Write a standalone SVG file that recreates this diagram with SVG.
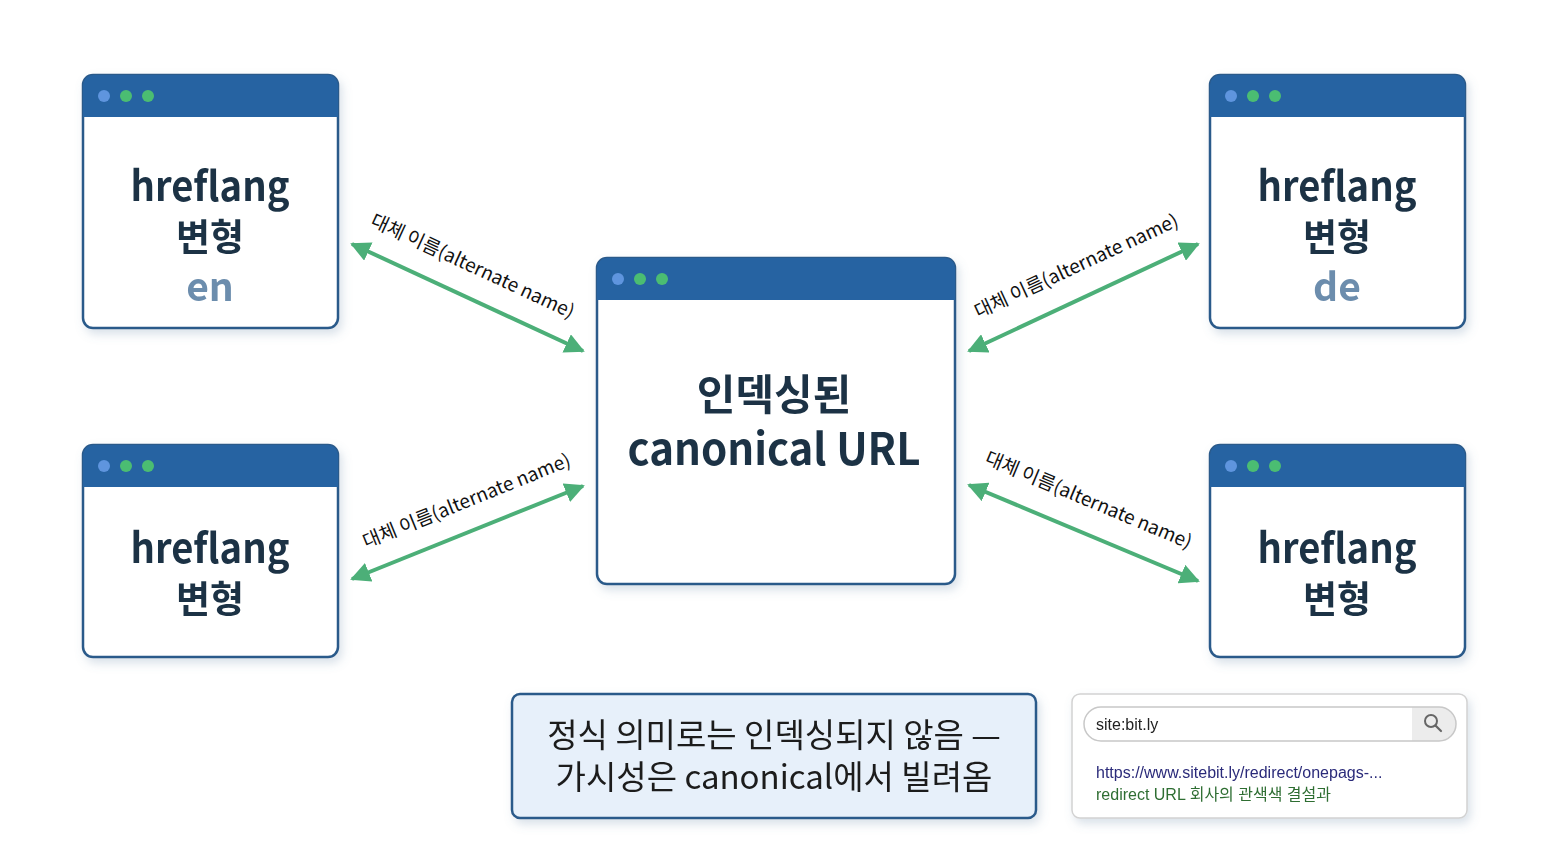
<svg xmlns="http://www.w3.org/2000/svg" width="1548" height="864" viewBox="0 0 1548 864">
<defs>
<filter id="sh" x="-10%" y="-10%" width="125%" height="125%">
<feDropShadow dx="3" dy="5" stdDeviation="5" flood-color="#6a8aa8" flood-opacity="0.25"/>
</filter>
<marker id="ah" viewBox="0 0 10 10" refX="9" refY="5" markerWidth="5" markerHeight="5" orient="auto-start-reverse" markerUnits="strokeWidth">
<path d="M0,0 L10,5 L0,10 z" fill="#4caf78"/>
</marker>
</defs>
<style>
.win{fill:#ffffff;stroke:#2b5a8a;stroke-width:2.5}
.hdr{fill:#2763a2}
.d1{fill:#5f95de}
.d2{fill:#4cbd72}
.t{font-family:"Noto Sans CJK KR","Noto Sans",sans-serif;font-weight:700;fill:#1b3245;text-anchor:middle}
.lang{font-family:"Noto Sans CJK KR","Noto Sans",sans-serif;font-weight:700;fill:#6c8dad;text-anchor:middle}
.lbl{font-family:"Noto Sans CJK KR","Noto Sans",sans-serif;font-size:19px;fill:#111;text-anchor:middle}
.con{stroke:#4caf78;stroke-width:4;fill:none;marker-start:url(#ah);marker-end:url(#ah)}
.note{font-family:"Noto Sans CJK KR","Noto Sans",sans-serif;font-size:33px;fill:#1a1a1a;text-anchor:middle}
.srch{font-family:"Liberation Sans","Noto Sans CJK KR",sans-serif;font-size:16px}
</style>
<rect width="1548" height="864" fill="#ffffff"/>

<g id="connectors">
<line class="con" x1="352" y1="244" x2="583" y2="351"/>
<line class="con" x1="1198" y1="244" x2="969" y2="351"/>
<line class="con" x1="352" y1="579" x2="583" y2="486"/>
<line class="con" x1="969" y1="485" x2="1198" y2="581"/>
<text class="lbl" transform="translate(470,272) rotate(24.9)">대체 이름(alternate name)</text>
<text class="lbl" transform="translate(1079,272) rotate(-24.8)">대체 이름(alternate name)</text>
<text class="lbl" transform="translate(469,507) rotate(-22)">대체 이름(alternate name)</text>
<text class="lbl" transform="translate(1086,506) rotate(22.8)">대체 이름(alternate name)</text>
</g>

<g id="node-en" filter="url(#sh)">
<rect class="win" x="83" y="75" width="255" height="253" rx="10"/>
<path class="hdr" d="M83,117 V85 a10,10 0 0 1 10,-10 H328 a10,10 0 0 1 10,10 V117 z"/>
<circle class="d1" cx="104" cy="96" r="6"/><circle class="d2" cx="126" cy="96" r="6"/><circle class="d2" cx="148" cy="96" r="6"/>
<text class="t" x="210" y="201" font-size="41" textLength="159" lengthAdjust="spacingAndGlyphs">hreflang</text>
<text class="t" x="210" y="251" font-size="37">변형</text>
<text class="lang" x="210" y="301" font-size="39">en</text>
</g>

<g id="node-bl" filter="url(#sh)">
<rect class="win" x="83" y="445" width="255" height="212" rx="10"/>
<path class="hdr" d="M83,487 V455 a10,10 0 0 1 10,-10 H328 a10,10 0 0 1 10,10 V487 z"/>
<circle class="d1" cx="104" cy="466" r="6"/><circle class="d2" cx="126" cy="466" r="6"/><circle class="d2" cx="148" cy="466" r="6"/>
<text class="t" x="210" y="563" font-size="41" textLength="159" lengthAdjust="spacingAndGlyphs">hreflang</text>
<text class="t" x="210" y="613" font-size="37">변형</text>
</g>

<g id="node-de" filter="url(#sh)">
<rect class="win" x="1210" y="75" width="255" height="253" rx="10"/>
<path class="hdr" d="M1210,117 V85 a10,10 0 0 1 10,-10 H1455 a10,10 0 0 1 10,10 V117 z"/>
<circle class="d1" cx="1231" cy="96" r="6"/><circle class="d2" cx="1253" cy="96" r="6"/><circle class="d2" cx="1275" cy="96" r="6"/>
<text class="t" x="1337" y="201" font-size="41" textLength="159" lengthAdjust="spacingAndGlyphs">hreflang</text>
<text class="t" x="1337" y="251" font-size="37">변형</text>
<text class="lang" x="1337" y="301" font-size="39">de</text>
</g>

<g id="node-br" filter="url(#sh)">
<rect class="win" x="1210" y="445" width="255" height="212" rx="10"/>
<path class="hdr" d="M1210,487 V455 a10,10 0 0 1 10,-10 H1455 a10,10 0 0 1 10,10 V487 z"/>
<circle class="d1" cx="1231" cy="466" r="6"/><circle class="d2" cx="1253" cy="466" r="6"/><circle class="d2" cx="1275" cy="466" r="6"/>
<text class="t" x="1337" y="563" font-size="41" textLength="159" lengthAdjust="spacingAndGlyphs">hreflang</text>
<text class="t" x="1337" y="613" font-size="37">변형</text>
</g>

<g id="node-canonical" filter="url(#sh)">
<rect class="win" x="597" y="258" width="358" height="326" rx="10"/>
<path class="hdr" d="M597,300 V268 a10,10 0 0 1 10,-10 H945 a10,10 0 0 1 10,10 V300 z"/>
<circle class="d1" cx="618" cy="279" r="6"/><circle class="d2" cx="640" cy="279" r="6"/><circle class="d2" cx="662" cy="279" r="6"/>
<text class="t" x="774" y="410" font-size="42">인덱싱된</text>
<text class="t" x="774" y="465" font-size="44" textLength="293" lengthAdjust="spacingAndGlyphs">canonical URL</text>
</g>

<g id="note" filter="url(#sh)">
<rect x="512" y="694" width="524" height="124" rx="8" fill="#e7f0fa" stroke="#2b5a8a" stroke-width="2.5"/>
<text class="note" x="774" y="747">정식 의미로는 인덱싱되지 않음 —</text>
<text class="note" x="774" y="789">가시성은 canonical에서 빌려옴</text>
</g>

<g id="search" filter="url(#sh)">
<rect x="1072" y="694" width="395" height="124" rx="8" fill="#ffffff" stroke="#d2d2d2" stroke-width="1.5"/>
<path d="M1412,707 H1439 a17,17 0 0 1 0,34 H1412 z" fill="#ececec"/>
<rect x="1084" y="707" width="372" height="34" rx="17" fill="none" stroke="#c8c8c8" stroke-width="1.5"/>
<circle cx="1431" cy="721" r="6" fill="none" stroke="#666" stroke-width="2"/>
<line x1="1435.5" y1="725.5" x2="1441" y2="731" stroke="#666" stroke-width="2.2" stroke-linecap="round"/>
<text class="srch" x="1096" y="730" fill="#222">site:bit.ly</text>
<text class="srch" x="1096" y="778" fill="#2b2b7a">https://www.sitebit.ly/redirect/onepags-...</text>
<text class="srch" x="1096" y="800" fill="#2f6e33">redirect URL 회사의 관색색 결설과</text>
</g>
</svg>
